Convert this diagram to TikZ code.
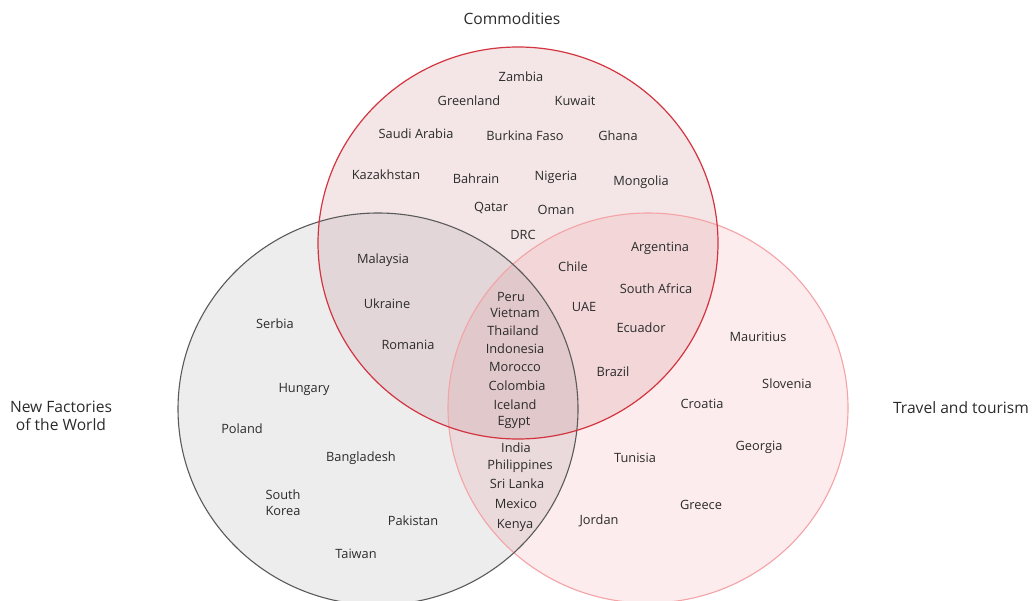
\documentclass[tikz,border=0pt]{standalone}
\usepackage{fontspec}
\setmainfont{Open Sans}
\definecolor{cred}{HTML}{F4E6E7}
\definecolor{cgray}{HTML}{EDEDED}
\definecolor{cpink}{HTML}{FDECED}
\definecolor{crg}{HTML}{E3D6D8}
\definecolor{crp}{HTML}{F2D6D8}
\definecolor{cgp}{HTML}{EBDADB}
\definecolor{crgp}{HTML}{E1C8CA}
\definecolor{sred}{HTML}{D3343F}
\definecolor{sgray}{HTML}{5A5A5A}
\definecolor{spink}{HTML}{F4A3A6}
\definecolor{txt}{HTML}{2B2B2B}
\begin{document}
\begin{tikzpicture}[x=1pt,y=-1pt,
  lbl/.style={text=txt,font=\fontsize{12.8}{15.5}\selectfont,inner sep=0pt,align=center,yshift=-0.8pt},
  ttl/.style={text=txt,font=\fontsize{15.6}{17.5}\selectfont,inner sep=0pt,align=center}]
\useasboundingbox (0,0) rectangle (1032,601);
\begin{scope}
\clip (0,0) rectangle (1032,601);
\def\cred{(518,243) ellipse [x radius=200,y radius=196]}
\def\cgray{(378,409) ellipse [x radius=200,y radius=196]}
\def\cpink{(648,408) ellipse [x radius=200,y radius=195]}
\fill[cred] \cred;
\fill[cgray] \cgray;
\fill[cpink] \cpink;
\begin{scope}\clip \cred; \fill[crg] \cgray; \fill[crp] \cpink; \end{scope}
\begin{scope}\clip \cgray; \fill[cgp] \cpink; \end{scope}
\begin{scope}\clip \cred; \clip \cgray; \fill[crgp] \cpink; \end{scope}
\draw[spink,line width=1.1pt] \cpink;
\draw[sgray,line width=1.1pt] \cgray;
\draw[sred,line width=1.2pt] \cred;
\end{scope}

\node[ttl] (tcom) at (512,19) {Commodities};
\node[ttl] (tnew) at (61,416) {New Factories\\of the World};
\node[ttl] (ttra) at (961,408) {Travel and tourism};

\node[lbl] (zambia) at (521,76) {Zambia};
\node[lbl] (greenland) at (469,100) {Greenland};
\node[lbl] (kuwait) at (575,100) {Kuwait};
\node[lbl] (saudi) at (416,133) {Saudi Arabia};
\node[lbl] (burkina) at (525,135) {Burkina Faso};
\node[lbl] (ghana) at (618,135) {Ghana};
\node[lbl] (kazakh) at (386,174) {Kazakhstan};
\node[lbl] (bahrain) at (476,178) {Bahrain};
\node[lbl] (nigeria) at (556,177) {Nigeria};
\node[lbl] (mongolia) at (641,181) {Mongolia};
\node[lbl] (qatar) at (491,207) {Qatar};
\node[lbl] (oman) at (556,209) {Oman};
\node[lbl] (drc) at (523,234) {DRC};
\node[lbl] (argentina) at (660,248) {Argentina};
\node[lbl] (chile) at (573,266) {Chile};
\node[lbl] (safrica) at (656,288) {South Africa};
\node[lbl] (uae) at (584,306) {UAE};
\node[lbl] (ecuador) at (641,327) {Ecuador};
\node[lbl] (brazil) at (613,371) {Brazil};
\node[lbl] (malaysia) at (383,259) {Malaysia};
\node[lbl] (ukraine) at (387,303) {Ukraine};
\node[lbl] (romania) at (408,344) {Romania};
\node[lbl] (serbia) at (275,323) {Serbia};
\node[lbl] (hungary) at (304,389) {Hungary};
\node[lbl] (poland) at (242,428) {Poland};
\node[lbl] (bangladesh) at (361,457) {Bangladesh};
\node[lbl] (skorea) at (283,502) {South\\Korea};
\node[lbl] (pakistan) at (413,520) {Pakistan};
\node[lbl] (taiwan) at (356,553) {Taiwan};
\node[lbl] (peru) at (511,296) {Peru};
\node[lbl] (vietnam) at (515,312) {Vietnam};
\node[lbl] (thailand) at (513,330) {Thailand};
\node[lbl] (indonesia) at (515,348) {Indonesia};
\node[lbl] (morocco) at (515,366) {Morocco};
\node[lbl] (colombia) at (517,385) {Colombia};
\node[lbl] (iceland) at (515,404) {Iceland};
\node[lbl] (egypt) at (514,422) {Egypt};
\node[lbl] (india) at (516,447) {India};
\node[lbl] (philippines) at (520,465) {Philippines};
\node[lbl] (srilanka) at (517,483) {Sri Lanka};
\node[lbl] (mexico) at (516,503) {Mexico};
\node[lbl] (kenya) at (515,525) {Kenya};
\node[lbl] (mauritius) at (758,336) {Mauritius};
\node[lbl] (slovenia) at (787,383) {Slovenia};
\node[lbl] (croatia) at (702,403) {Croatia};
\node[lbl] (georgia) at (759,447) {Georgia};
\node[lbl] (tunisia) at (635,457) {Tunisia};
\node[lbl] (greece) at (701,504) {Greece};
\node[lbl] (jordan) at (599,520) {Jordan};
\end{tikzpicture}
\end{document}
